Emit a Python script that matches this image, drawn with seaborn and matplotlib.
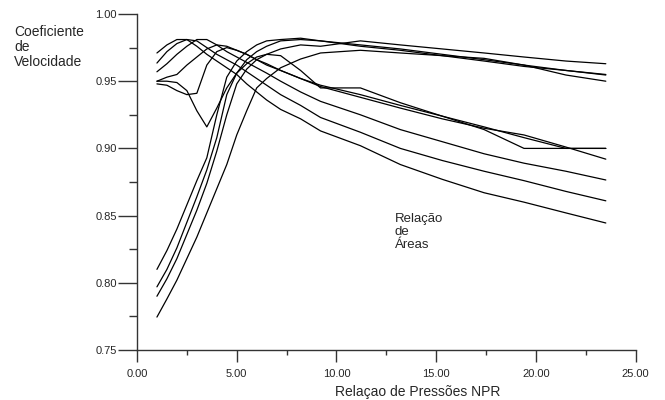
import numpy as np
import pandas as pd
import seaborn as sns
import matplotlib.pyplot as plt
from matplotlib.ticker import MultipleLocator, FormatStrFormatter

# Relacao de pressoes (eixo x), comum a todas as curvas
npr = [1.0, 1.5, 2.0, 2.5, 3.0, 3.5, 4.0, 4.5, 5.0, 5.5, 6.0, 6.5,
       7.2, 8.2, 9.2, 11.2, 13.2, 15.3, 17.4, 19.4, 21.5, 23.5]

# curvas que partem de baixo (relacoes de area maiores)
cv_r1 = [0.810, 0.824, 0.840, 0.858, 0.876, 0.893, 0.925, 0.953, 0.965, 0.972, 0.977,
         0.980, 0.981, 0.982, 0.980, 0.977, 0.974, 0.970, 0.966, 0.962, 0.958, 0.955]
cv_r2 = [0.797, 0.810, 0.826, 0.845, 0.864, 0.884, 0.908, 0.940, 0.956, 0.966, 0.972,
         0.976, 0.980, 0.981, 0.980, 0.976, 0.973, 0.969, 0.965, 0.961, 0.958, 0.9546]
cv_r3 = [0.790, 0.803, 0.818, 0.836, 0.854, 0.874, 0.898, 0.925, 0.948, 0.959, 0.966,
         0.970, 0.974, 0.977, 0.976, 0.980, 0.977, 0.974, 0.971, 0.968, 0.965, 0.963]
cv_r4 = [0.7745, 0.788, 0.802, 0.818, 0.834, 0.852, 0.870, 0.888, 0.910, 0.928, 0.945,
         0.952, 0.960, 0.9665, 0.971, 0.973, 0.971, 0.969, 0.967, 0.962, 0.9546, 0.950]

# curvas que partem de cima (relacoes de area menores)
cv_d1 = [0.971, 0.977, 0.981, 0.981, 0.976, 0.970, 0.965, 0.960, 0.955, 0.948, 0.942,
         0.936, 0.929, 0.922, 0.913, 0.902, 0.888, 0.877, 0.867, 0.860, 0.852, 0.8445]
cv_d2 = [0.9635, 0.972, 0.978, 0.981, 0.980, 0.975, 0.970, 0.966, 0.962, 0.957, 0.952,
         0.947, 0.940, 0.932, 0.923, 0.912, 0.900, 0.891, 0.883, 0.876, 0.868, 0.861]
cv_d3 = [0.957, 0.963, 0.970, 0.976, 0.981, 0.981, 0.977, 0.972, 0.968, 0.964, 0.960,
         0.956, 0.950, 0.942, 0.935, 0.925, 0.914, 0.905, 0.896, 0.889, 0.883, 0.8765]
cv_d4 = [0.950, 0.953, 0.955, 0.962, 0.968, 0.974, 0.977, 0.976, 0.973, 0.970, 0.966,
         0.963, 0.958, 0.952, 0.946, 0.938, 0.930, 0.922, 0.915, 0.910, 0.901, 0.892]
cv_d5 = [0.948, 0.947, 0.943, 0.940, 0.941, 0.962, 0.972, 0.975, 0.973, 0.970, 0.966,
         0.962, 0.958, 0.952, 0.947, 0.940, 0.932, 0.924, 0.916, 0.908, 0.900, 0.900]
cv_d6 = [0.950, 0.950, 0.949, 0.943, 0.928, 0.916, 0.930, 0.945, 0.956, 0.963, 0.968,
         0.970, 0.969, 0.958, 0.945, 0.945, 0.934, 0.924, 0.914, 0.900, 0.900, 0.900]

curvas = {"r1": cv_r1, "r2": cv_r2, "r3": cv_r3, "r4": cv_r4,
          "d1": cv_d1, "d2": cv_d2, "d3": cv_d3, "d4": cv_d4,
          "d5": cv_d5, "d6": cv_d6}

df = pd.DataFrame(curvas, index=npr).rename_axis("npr").reset_index()
df = df.melt(id_vars="npr", var_name="curva", value_name="cv")

sns.set_style("ticks")
plt.rcParams["font.family"] = ["Liberation Sans", "DejaVu Sans"]

fig = plt.figure(figsize=(6.65, 4), dpi=100)
ax = fig.add_axes([0.206, 0.125, 0.750, 0.84])

sns.lineplot(data=df, x="npr", y="cv", units="curva", estimator=None,
             color="black", linewidth=0.9, ax=ax, legend=False)

ax.set_xlim(0, 25)
ax.set_ylim(0.75, 1.00)
ax.xaxis.set_major_locator(MultipleLocator(5))
ax.xaxis.set_minor_locator(MultipleLocator(2.5))
ax.yaxis.set_major_locator(MultipleLocator(0.05))
ax.yaxis.set_minor_locator(MultipleLocator(0.025))
ax.xaxis.set_major_formatter(FormatStrFormatter("%.2f"))
ax.yaxis.set_major_formatter(FormatStrFormatter("%.2f"))
sns.despine(ax=ax)
for s in ("left", "bottom"):
    ax.spines[s].set_color("#333333")
    ax.spines[s].set_linewidth(1.0)

ax.tick_params(axis="x", which="major", length=8.5, width=1, color="#333333",
               labelsize=8, pad=5)
ax.tick_params(axis="x", which="minor", length=3.6, width=1, color="#333333")
ax.tick_params(axis="y", which="major", length=13.5, width=1, color="#333333",
               labelsize=8, pad=1)
ax.tick_params(axis="y", which="minor", length=5.8, width=1, color="#333333")
ax.set_xlabel("")
ax.set_ylabel("")

ax.text(12.93, 0.852, "Relação\nde\nÁreas", ha="left", va="top",
        fontsize=9.5, linespacing=1.1)
fig.text(14 / 665, 1 - 25 / 400, "Coeficiente\nde\nVelocidade", ha="left",
         va="top", fontsize=10, linespacing=1.1)
fig.text(418 / 665, 1 - 385 / 400, "Relaçao de Pressões NPR", ha="center",
         va="top", fontsize=10)

fig.savefig("out.png", dpi=100)
